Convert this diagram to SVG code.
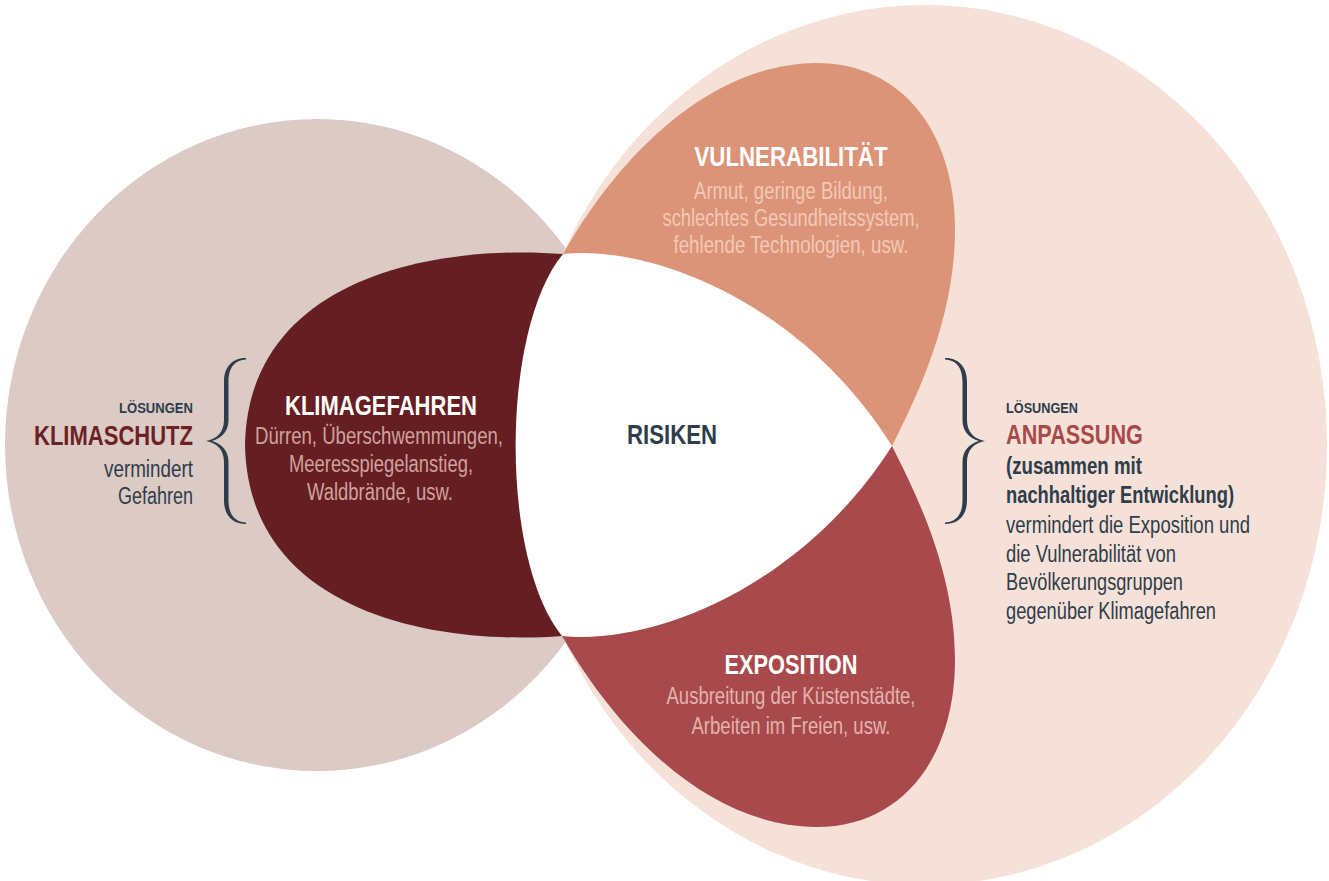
<svg xmlns="http://www.w3.org/2000/svg" width="1329" height="881" viewBox="0 0 1329 881">
  <defs>
    <style>
      text { font-family: "Liberation Sans Narrow", "Liberation Sans", "DejaVu Sans Condensed", sans-serif; }
      .title { font-weight: bold; font-size: 28.5px; fill: #ffffff; text-anchor: middle; }
      .sub { font-size: 23px; text-anchor: middle; }
      .sub-haz { fill: #cfa29e; }
      .sub-vul { fill: #f2c9b7; }
      .sub-exp { fill: #e2b3ae; }
      .risk { font-weight: bold; font-size: 28.5px; fill: #2e3d4b; text-anchor: middle; }
      .kicker { font-weight: bold; font-size: 14px; fill: #2e3d4b; }
      .head { font-weight: bold; font-size: 28.5px; }
      .body { font-size: 23px; fill: #2e3d4b; }
      .body-b { font-size: 23px; font-weight: bold; fill: #2e3d4b; }
      .end { text-anchor: end; }
      .brace { fill: #2e3d4b; }
    </style>
    <!-- calligraphic curly brace, opening to the right -->
    <path id="brace" d="M 246,358 C 234,358 224,365 224,382 L 224,420 C 224,432 217,439 206,441 C 217,443 224,450 224,462 L 224,500 C 224,517 234,524 246,524 L 246,522.5 C 236,522 228.5,516 228.5,500 L 228.5,462 C 228.5,451 222,444 212,441 C 222,438 228.5,431 228.5,420 L 228.5,382 C 228.5,366 236,360 246,359.5 Z"/>
  </defs>

  <rect width="1329" height="881" fill="#ffffff"/>

  <!-- solution fields in the background -->
  <g id="klimaschutz-field">
    <ellipse cx="317" cy="445" rx="312" ry="326" fill="#dccac4"/>
  </g>
  <g id="anpassung-field">
    <ellipse cx="925" cy="445" rx="402" ry="440" fill="#f5e1d7"/>
  </g>

  <!-- three risk factors -->
  <g id="klimagefahren">
    <path d="M 563,254 C 430,244 248,280 245,445 C 248,610 430,646 562,636 Z" fill="#651e22"/>
  </g>
  <g id="vulnerabilitaet">
    <path d="M 563,254 C 610,170 700,65 815,63 C 900,62 955,130 955,230 C 955,320 915,400 892,446 Z" fill="#db9478"/>
  </g>
  <g id="exposition">
    <path d="M 562,636 C 610,720 700,825 815,827 C 900,828 955,760 955,660 C 955,570 915,492 892,446 Z" fill="#a84a4b"/>
  </g>

  <!-- risk in the middle -->
  <g id="risiken">
    <path d="M 563,254 C 650,245 800,300 892,446 C 800,590 650,645 562,636 C 500,560 500,330 563,254 Z" fill="#ffffff"/>
    <text class="risk" x="672" y="444" textLength="90" lengthAdjust="spacingAndGlyphs">RISIKEN</text>
  </g>

  <!-- labels of the risk factors -->
  <g id="klimagefahren-label">
    <text class="title" x="381" y="415" textLength="192" lengthAdjust="spacingAndGlyphs">KLIMAGEFAHREN</text>
    <text class="sub sub-haz" x="379" y="444" textLength="248" lengthAdjust="spacingAndGlyphs">Dürren, Überschwemmungen,</text>
    <text class="sub sub-haz" x="381" y="472" textLength="184" lengthAdjust="spacingAndGlyphs">Meeresspiegelanstieg,</text>
    <text class="sub sub-haz" x="380" y="500" textLength="146" lengthAdjust="spacingAndGlyphs">Waldbrände, usw.</text>
  </g>
  <g id="vulnerabilitaet-label">
    <text class="title" x="791" y="166" textLength="193" lengthAdjust="spacingAndGlyphs">VULNERABILITÄT</text>
    <text class="sub sub-vul" x="791" y="199" textLength="194" lengthAdjust="spacingAndGlyphs">Armut, geringe Bildung,</text>
    <text class="sub sub-vul" x="791" y="226" textLength="257" lengthAdjust="spacingAndGlyphs">schlechtes Gesundheitssystem,</text>
    <text class="sub sub-vul" x="791" y="253" textLength="235" lengthAdjust="spacingAndGlyphs">fehlende Technologien, usw.</text>
  </g>
  <g id="exposition-label">
    <text class="title" x="791" y="674" textLength="133" lengthAdjust="spacingAndGlyphs">EXPOSITION</text>
    <text class="sub sub-exp" x="791" y="704" textLength="249" lengthAdjust="spacingAndGlyphs">Ausbreitung der Küstenstädte,</text>
    <text class="sub sub-exp" x="791" y="734" textLength="199" lengthAdjust="spacingAndGlyphs">Arbeiten im Freien, usw.</text>
  </g>

  <!-- braces grouping the solutions -->
  <g id="braces">
    <use href="#brace" class="brace"/>
    <use href="#brace" class="brace" transform="matrix(-1 0 0 1 1191 0)"/>
  </g>

  <!-- solution labels -->
  <g id="klimaschutz-label">
    <text class="kicker end" x="193" y="413" textLength="74" lengthAdjust="spacingAndGlyphs">LÖSUNGEN</text>
    <text class="head end" x="193" y="445" fill="#6b2126" textLength="159" lengthAdjust="spacingAndGlyphs">KLIMASCHUTZ</text>
    <text class="body end" x="193" y="477" textLength="89" lengthAdjust="spacingAndGlyphs">vermindert</text>
    <text class="body end" x="193" y="504" textLength="75" lengthAdjust="spacingAndGlyphs">Gefahren</text>
  </g>
  <g id="anpassung-label">
    <text class="kicker" x="1006" y="413" textLength="72" lengthAdjust="spacingAndGlyphs">LÖSUNGEN</text>
    <text class="head" x="1006" y="444" fill="#a84a4b" textLength="137" lengthAdjust="spacingAndGlyphs">ANPASSUNG</text>
    <text class="body-b" x="1006" y="474" textLength="136" lengthAdjust="spacingAndGlyphs">(zusammen mit</text>
    <text class="body-b" x="1006" y="503" textLength="228" lengthAdjust="spacingAndGlyphs">nachhaltiger Entwicklung)</text>
    <text class="body" x="1006" y="533" textLength="244" lengthAdjust="spacingAndGlyphs">vermindert die Exposition und</text>
    <text class="body" x="1006" y="562" textLength="170" lengthAdjust="spacingAndGlyphs">die Vulnerabilität von</text>
    <text class="body" x="1006" y="590" textLength="177" lengthAdjust="spacingAndGlyphs">Bevölkerungsgruppen</text>
    <text class="body" x="1006" y="619" textLength="210" lengthAdjust="spacingAndGlyphs">gegenüber Klimagefahren</text>
  </g>
</svg>
